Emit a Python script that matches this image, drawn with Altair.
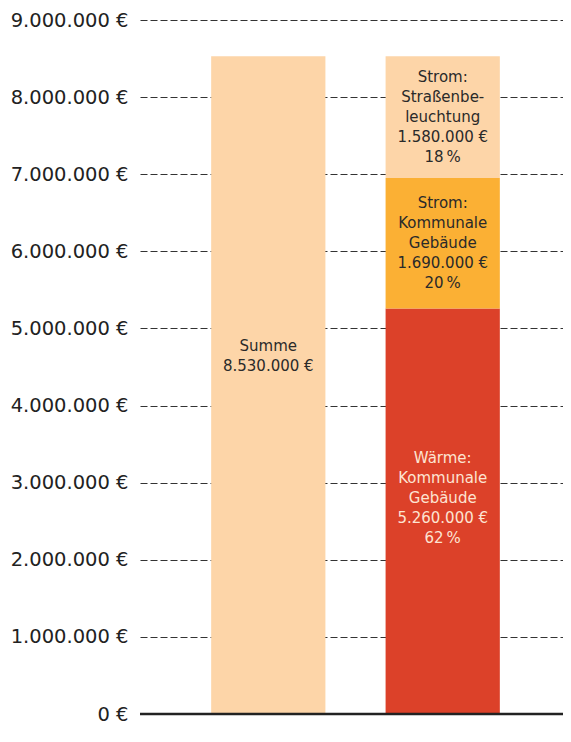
import altair as alt
import pandas as pd

# ---- data ----
bars = ["Summe", "Aufteilung", "Aufteilung", "Aufteilung"]
parts = ["Summe", "Wärme: Kommunale Gebäude", "Strom: Kommunale Gebäude", "Strom: Straßenbeleuchtung"]
values = [8530000, 5260000, 1690000, 1580000]
labels = [
    "Summe\n8.530.000 €",
    "Wärme:\nKommunale\nGebäude\n5.260.000 €\n62\u2009%",
    "Strom:\nKommunale\nGebäude\n1.690.000 €\n20\u2009%",
    "Strom:\nStraßenbe-\nleuchtung\n1.580.000 €\n18\u2009%",
]
colors = ["#fdd5a8", "#dc4129", "#fbb034", "#fdd5a8"]
ticks = [0, 1000000, 2000000, 3000000, 4000000, 5000000, 6000000, 7000000, 8000000, 9000000]

df = pd.DataFrame({"bar": bars, "part": parts, "value": values, "label": labels, "order": [0, 0, 1, 2]})
df["y1"] = df.groupby("bar")["value"].cumsum()
df["y0"] = df["y1"] - df["value"]
df["mid"] = (df["y0"] + df["y1"]) / 2

FONT = "DejaVu Sans"
xscale = alt.Scale(domain=["Summe", "Aufteilung"], range=[0, 431], paddingInner=0.345, paddingOuter=0.408)
yscale = alt.Scale(domain=[0, 9000000], nice=False, zero=True)

label_expr = "replace(replace(format(datum.value, ',.0f'), ',', '.'), ',', '.') + ' €'"

base = alt.Chart(df)

bar_layer = base.mark_bar().encode(
    x=alt.X("bar:N", scale=xscale, axis=None),
    y=alt.Y("y0:Q", scale=yscale, axis=alt.Axis(
        values=ticks, labelExpr=label_expr, grid=True, gridDash=[7, 3], gridColor="#333333",
        gridWidth=1, domain=False, ticks=False, labelPadding=12, labelFontSize=19.5,
        labelFont=FONT, labelColor="#222222", title=None)),
    y2="y1:Q",
    color=alt.Color("part:N", scale=alt.Scale(domain=parts, range=colors), legend=None),
)

baseline = alt.Chart(pd.DataFrame({"v": [0]})).mark_rule(color="#222222", strokeWidth=2.5).encode(
    y=alt.Y("v:Q", scale=yscale), x=alt.value(0), x2=alt.value(423)
)

text_common = dict(lineBreak="\n", fontSize=15, font=FONT, lineHeight=20, baseline="middle", align="center")

text_dark = base.transform_filter(
    "datum.part == 'Strom: Kommunale Gebäude' || datum.part == 'Strom: Straßenbeleuchtung'"
).mark_text(color="#2a2a2a", dy=-40, **text_common).encode(
    x=alt.X("bar:N", scale=xscale), y=alt.Y("mid:Q", scale=yscale), text="label:N"
)
text_sum = base.transform_filter("datum.part == 'Summe'").mark_text(
    color="#2a2a2a", dy=-39, **text_common
).encode(x=alt.X("bar:N", scale=xscale), y=alt.Y("mid:Q", scale=yscale), text="label:N")
text_red = base.transform_filter("datum.part == 'Wärme: Kommunale Gebäude'").mark_text(
    color="#fde4d2", dy=-53, **text_common
).encode(x=alt.X("bar:N", scale=xscale), y=alt.Y("mid:Q", scale=yscale), text="label:N")

chart = alt.layer(bar_layer, baseline, text_dark, text_sum, text_red).properties(
    width=423, height=694,
    padding={"left": 132, "top": 12, "right": 0, "bottom": 14},
    autosize=alt.AutoSizeParams(type="none"),
    background="white",
).configure_view(stroke=None)

chart.save("out.html", embed_options={"renderer": "svg", "actions": False})
